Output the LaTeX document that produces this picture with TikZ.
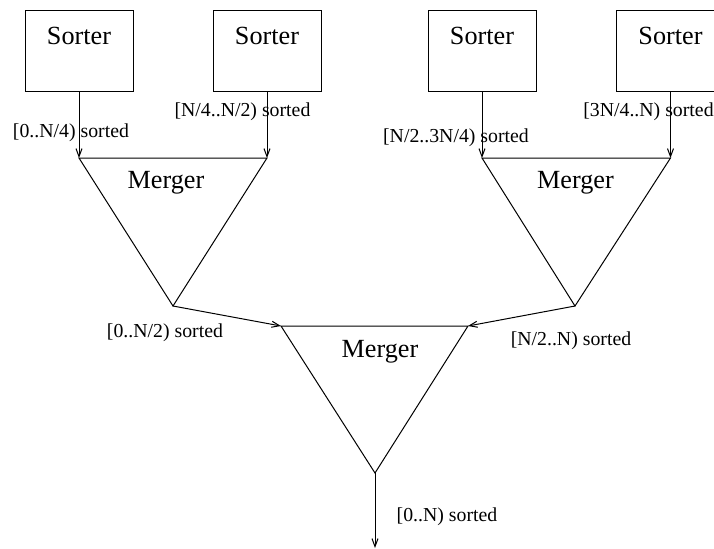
\documentclass[tikz,border=0pt]{standalone}
\usepackage{fontspec}
\setmainfont{Liberation Serif}
\usetikzlibrary{arrows.meta}
\begin{document}
\begin{tikzpicture}[x=0.5pt,y=-0.5pt,
  sorter/.style={draw, line width=0.5pt, inner sep=0pt, minimum width=54pt,
    text height=17.35pt, text depth=23.15pt, font=\fontsize{13.1}{15}\selectfont, anchor=base},
  title/.style={font=\fontsize{13.1}{15}\selectfont, inner sep=0pt},
  lbl/.style={font=\fontsize{9.9}{12}\selectfont, inner sep=0pt},
  tri/.style={draw, line width=0.5pt, line join=miter},
  arr/.style={draw, line width=0.5pt, -{Straight Barb[length=4pt,width=3pt]}}]
\clip (0,0) rectangle (714,548);
% sorters
\node[sorter] (s1) at (79,44.7) {Sorter};
\node[sorter] (s2) at (267,44.7) {Sorter};
\node[sorter] (s3) at (482,44.7) {Sorter};
\node[sorter] (s4) at (670.5,44.7) {Sorter};
% merger corners
\coordinate (m1l) at (79,158);
\coordinate (m1r) at (267,158);
\coordinate (m1b) at (173,306);
\coordinate (m2l) at (482,158);
\coordinate (m2r) at (670.5,158);
\coordinate (m2b) at (575,306);
\coordinate (m3l) at (281,326);
\coordinate (m3r) at (468,326);
\coordinate (m3b) at (375,473);
\coordinate (out) at (375,548);
\draw[tri] (m1l) -- (m1r) -- (m1b) -- cycle;
\draw[tri] (m2l) -- (m2r) -- (m2b) -- cycle;
\draw[tri] (m3l) -- (m3r) -- (m3b) -- cycle;
\node[title] (t1) at (166,183) {Merger};
\node[title] (t2) at (575.5,183) {Merger};
\node[title] (t3) at (380,352) {Merger};
% connectors
\draw[arr] (s1.south) -- (m1l);
\draw[arr] (s2.south) -- (m1r);
\draw[arr] (s3.south) -- (m2l);
\draw[arr] (s4.south) -- (m2r);
\draw[arr] (m1b) -- (m3l);
\draw[arr] (m2b) -- (m3r);
\draw[arr] (m3b) -- (out);
% labels
\node[lbl] (l1) at (71,133) {[0..N/4) sorted};
\node[lbl] (l2) at (242.5,112) {[N/4..N/2) sorted};
\node[lbl] (l3) at (456,138) {[N/2..3N/4) sorted};
\node[lbl] (l4) at (648.5,112) {[3N/4..N) sorted};
\node[lbl] (l5) at (165,333) {[0..N/2) sorted};
\node[lbl] (l6) at (571,341) {[N/2..N) sorted};
\node[lbl] (l7) at (447,517) {[0..N) sorted};
\end{tikzpicture}
\end{document}
